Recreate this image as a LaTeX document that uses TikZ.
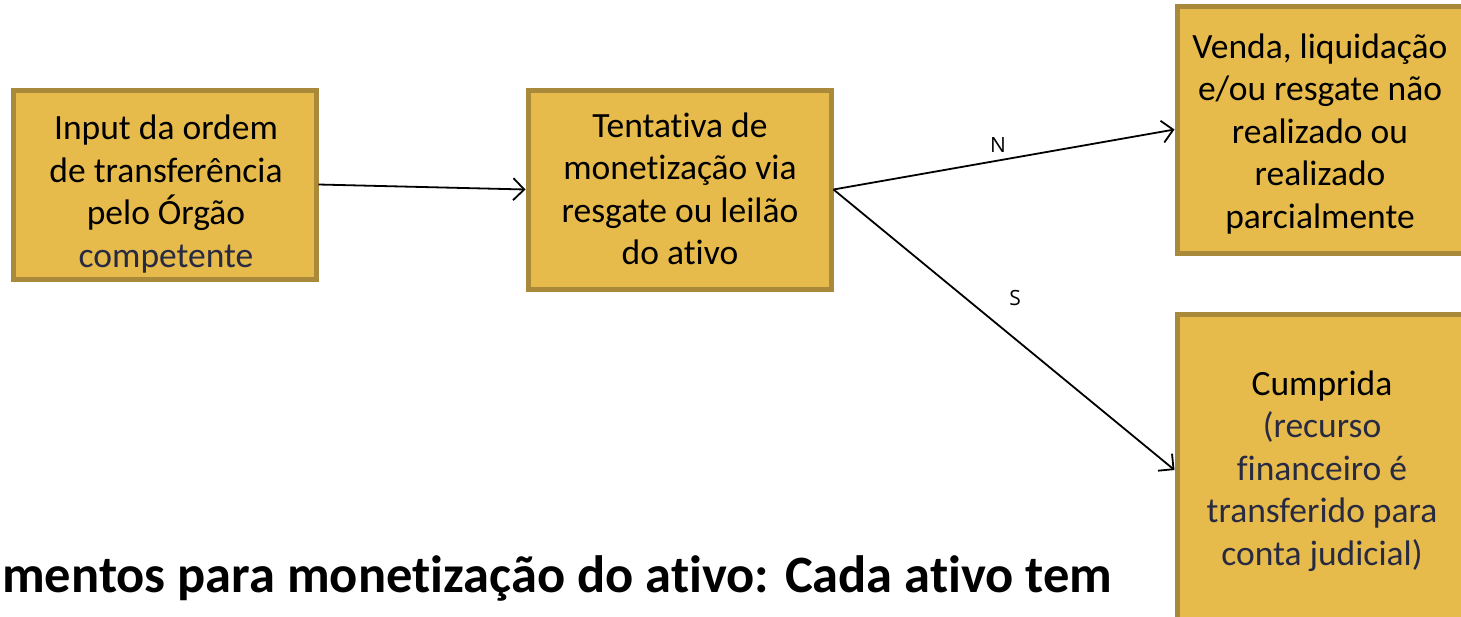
\documentclass[tikz,border=0pt]{standalone}
\usepackage{fontspec}
\setmainfont{Carlito}[Ligatures=NoCommon]
\newfontfamily\labfont{Open Sans}
\usetikzlibrary{arrows.meta}
\definecolor{boxfill}{RGB}{230,187,76}
\definecolor{boxline}{RGB}{168,138,58}
\definecolor{navytext}{RGB}{40,42,66}
\tikzset{
  stepbox/.style={draw=boxline, fill=boxfill, line width=5pt, rectangle, inner sep=0pt},
  steptext/.style={align=center, font=\fontsize{35.5}{42.5}\selectfont, inner sep=0pt},
  conn/.style={line width=1.8pt, -{Straight Barb[length=11pt,width=22pt,line width=1.8pt]}},
  lab/.style={font=\labfont\fontsize{21}{24}\selectfont, inner sep=0pt}
}
\begin{document}
\begin{tikzpicture}[x=1pt,y=-1pt]
\useasboundingbox (0,0) rectangle (1461,616);
\clip (0,0) rectangle (1461,616);
\fill[white] (0,0) rectangle (1461,616);
\node[stepbox, minimum width=303pt, minimum height=189pt] (b1) at (164.5,184.5) {};
\node[steptext] (t1) at (166,194)
  {Input da ordem\\de transferência\\pelo Órgão\\\textcolor{navytext}{competente}};
\node[stepbox, minimum width=303pt, minimum height=199pt] (b2) at (679.5,189.5) {};
\node[steptext] (t2) at (680,189)
  {Tentativa de\\monetização via\\resgate ou leilão\\do ativo};
\node[stepbox, minimum width=286pt, minimum height=247pt] (b3) at (1320,129.5) {};
\node[steptext] (t3) at (1320,134)
  {Venda, liquidação\\e/ou resgate não\\realizado ou\\realizado\\parcialmente};
\node[stepbox, minimum width=286pt, minimum height=312pt] (b4) at (1320,470) {};
\node[steptext] (t4) at (1322,471)
  {Cumprida\\\textcolor{navytext}{(recurso}\\\textcolor{navytext}{financeiro é}\\\textcolor{navytext}{transferido para}\\\textcolor{navytext}{conta judicial)}};
\draw[conn] (b1.east) -- (b2.west);
\draw[conn] (b2.east) -- (b3.west);
\draw[conn] (b2.east) -- (b4.west);
\node[lab] (ln) at (998,145) {N};
\node[lab] (ls) at (1015,298) {S};
\node[anchor=base west, inner sep=0pt, font=\bfseries\fontsize{52.5}{58}\selectfont] (title) at (2,592)
  {mentos para monetização do ativo: Cada ativo tem};
\end{tikzpicture}
\end{document}
